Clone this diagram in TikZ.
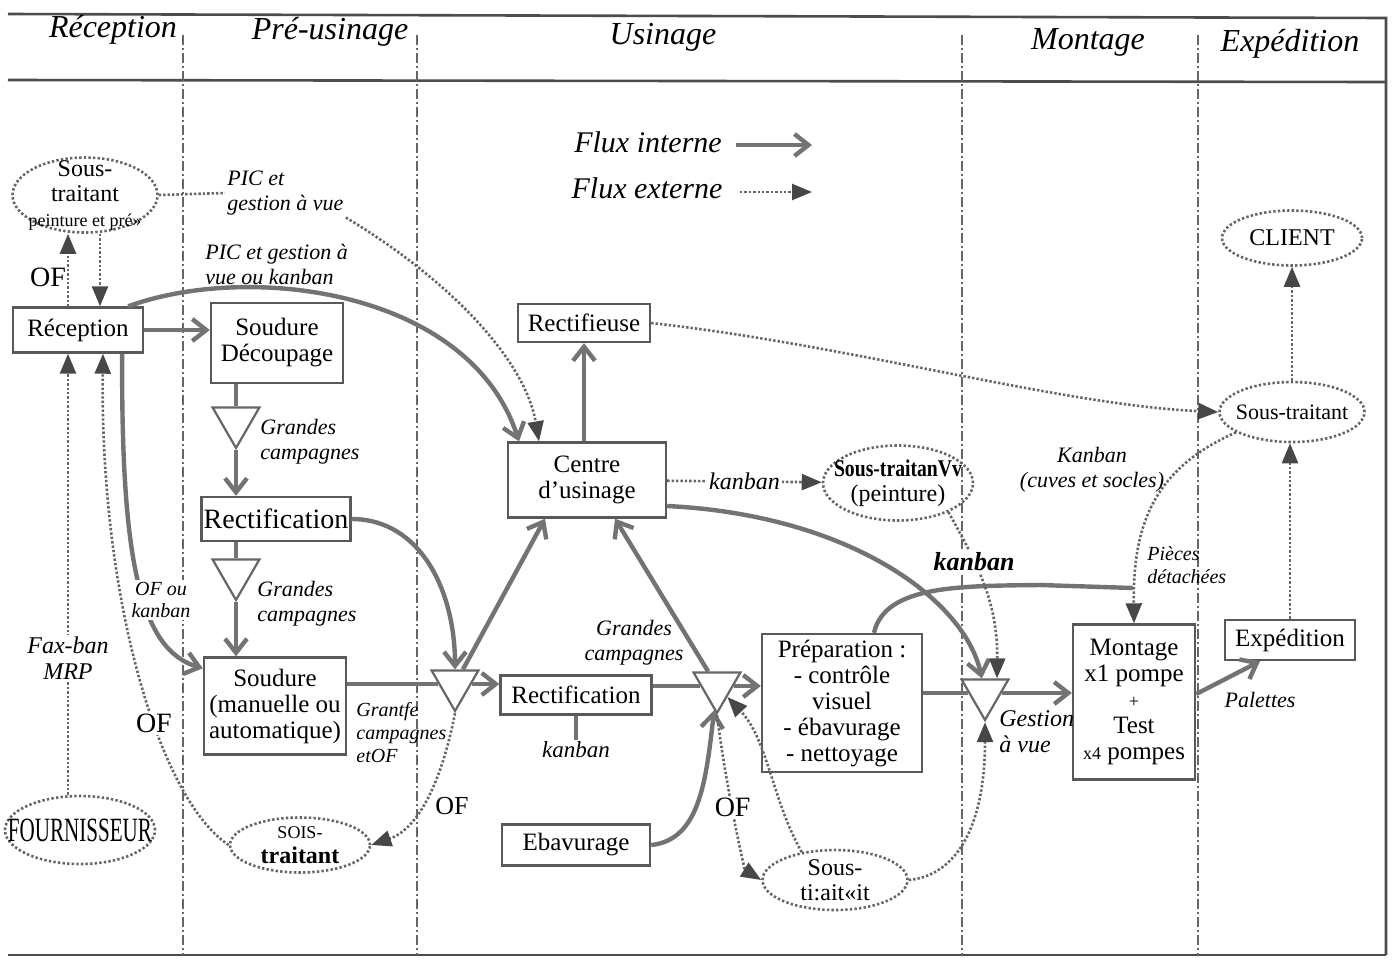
\documentclass[tikz,border=0pt]{standalone}
\usepackage{fontspec}
\setmainfont{Liberation Serif}
\usepackage{graphicx}
\usetikzlibrary{arrows.meta,shapes.geometric,calc}

\begin{document}
\begin{tikzpicture}[x=0.5pt, y=-0.5pt,
    box/.style={draw=black!65, line width=1.2pt, fill=white, align=center, inner sep=1pt,
        font=\fontsize{12.5}{13}\selectfont},
    ext/.style={ellipse, draw=black!60, line width=1.3pt, dash pattern=on 1.2pt off 1.1pt,
        inner xsep=-20pt, inner ysep=-14pt, align=center, font=\fontsize{12}{12.5}\selectfont},
    stock/.style={regular polygon, regular polygon sides=3, shape border rotate=180,
        draw=black!60, line width=1.1pt, fill=white, minimum size=27pt, inner sep=0pt},
    flux/.style={line width=2.2pt, black!55, -{Straight Barb[length=7pt,width=11pt]}},
    fluxline/.style={line width=2.2pt, black!55},
    extflow/.style={line width=1.3pt, black!60, dash pattern=on 1.2pt off 1pt,
        -{Triangle[length=10pt,width=8pt,color=black!72]}},
    extline/.style={line width=1.3pt, black!60, dash pattern=on 1.2pt off 1pt},
    sep/.style={line width=0.9pt, black!60, dash pattern=on 5pt off 1.5pt on 1pt off 1.5pt},
    lbl/.style={font=\fontsize{11}{12.5}\selectfont\itshape, align=center, inner sep=1pt, text=black},
    hdr/.style={font=\fontsize{16}{18}\selectfont\itshape}]
    \useasboundingbox (0,0) rectangle (1393,965);

    % 1. Frame and columns
    \draw[line width=1.3pt, black!70] (8,14) -- (1386,18) -- (1386,955);
    \draw[line width=1.3pt, black!70] (8,80) -- (1386,82);
    \draw[line width=1.3pt, black!70] (8,955) -- (1386,955);
    \foreach \x in {183,417,962,1198} {
        \draw[sep] (\x,35) -- (\x,955);
    }
    \node[hdr] (hrec) at (113,30) {Réception};
    \node[hdr] (hpre) at (330,32) {Pré-usinage};
    \node[hdr] (husi) at (663,37) {Usinage};
    \node[hdr] (hmon) at (1088,42) {Montage};
    \node[hdr] (hexp) at (1290,44) {Expédition};

    % 2. Legend
    \node[lbl, font=\fontsize{15}{16}\selectfont\itshape] (fi) at (648,142) {Flux interne};
    \node[lbl, font=\fontsize{15}{16}\selectfont\itshape] (fe) at (647,188) {Flux externe};
    \coordinate (fia) at (736,145);
    \coordinate (fib) at (812,145);
    \coordinate (fea) at (740,192);
    \coordinate (feb) at (812,192);
    \draw[flux] (fia) -- (fib);
    \draw[extflow] (fea) -- (feb);

    % 3. Workstations
    \node[box, minimum width=65pt, minimum height=22.5pt] (recep) at (78,330) {Réception};
    \node[box, minimum width=66pt, minimum height=40pt] (soudec) at (277,343) {Soudure\\Découpage};
    \node[box, minimum width=73pt, minimum height=22pt, font=\fontsize{14}{15}\selectfont] (rect1) at (276,519) {Rectification};
    \node[box, minimum width=71pt, minimum height=48.5pt] (soud) at (275,706) {Soudure\\(manuelle ou\\automatique)};
    \node[box, minimum width=66pt, minimum height=19pt] (rectif) at (584,323) {Rectifieuse};
    \node[box, minimum width=79pt, minimum height=37.5pt] (centre) at (587,480) {Centre\\d'usinage};
    \node[box, minimum width=75.5pt, minimum height=19.5pt] (rect2) at (576,695) {Rectification};
    \node[box, minimum width=74pt, minimum height=20.5pt] (ebav) at (576,845) {Ebavurage};
    \node[box, minimum width=80pt, minimum height=69pt] (prep) at (842,703) {Préparation :\\- contrôle\\visuel\\- ébavurage\\- nettoyage};
    \node[box, minimum width=61pt, minimum height=77.5pt] (mont) at (1134,702) {Montage\\x1 pompe\\{\small +}\\Test\\{\small x4} pompes};
    \node[box, minimum width=65pt, minimum height=20pt] (exped) at (1290,640) {Expédition};

    % 4. Outside partners
    \node[ext, minimum width=72.5pt, minimum height=37.5pt] (st1) at (85,195) {Sous-\\traitant\\{\fontsize{9}{10}\selectfont peinture et pré»}};
    \node[ext, minimum width=75pt, minimum height=34pt] (four) at (80,830) {\scalebox{0.62}[1]{\fontsize{17}{18}\selectfont FOURNISSEUR}};
    \node[ext, minimum width=70pt, minimum height=27.5pt] (st2) at (300,845) {{\small SOIS-}\\\textbf{traitant}};
    \node[ext, minimum width=75pt, minimum height=37.5pt] (stp) at (898,483) {\scalebox{0.82}[1]{\textbf{Sous-traitanVv}}\\(peinture)};
    \node[ext, minimum width=72.5pt, minimum height=30pt] (st3) at (835,880) {Sous-\\ti:ait«it};
    \node[ext, minimum width=70pt, minimum height=27.5pt] (client) at (1292,238) {CLIENT};
    \node[ext, minimum width=72.5pt, minimum height=30pt] (st4) at (1292,412) {{\fontsize{11}{12}\selectfont Sous-traitant}};

    % 5. Stocks
    \node[stock] (t1) at (236,421) {};
    \node[stock] (t2) at (236,573) {};
    \node[stock] (t3) at (455,684) {};
    \node[stock] (t4) at (717,686) {};
    \node[stock] (t5) at (985,693) {};

    % 6. Internal flows
    \draw[flux] (recep.east) -- (recep.east -| soudec.west);
    \draw[fluxline] (soudec.south -| t1) -- (t1);
    \draw[flux] (t1) -- (rect1.north -| t1);
    \draw[fluxline] (rect1.south -| t2) -- (t2);
    \draw[flux] (t2) -- (soud.north -| t2);
    \draw[flux] ([xshift=-11pt]recep.south east) .. controls (121,560) and (140,650) .. ([yshift=-6pt]soud.north west);
    \draw[fluxline] (soud.east |- t3) -- (t3);
    \draw[flux] (t3) -- (rect2.west |- t3);
    \draw[flux] (rect1.east) .. controls (420,519) and (455,590) .. (t3);
    \draw[flux] (t3) -- ([xshift=-21pt]centre.south);
    \draw[fluxline] (rect2.east |- t4) -- (t4);
    \draw[flux] (t4) -- (prep.west |- t4);
    \draw[flux] (t4) -- ([xshift=14pt]centre.south);
    \draw[flux] (ebav.east) .. controls (700,840) and (706,780) .. (t4);
    \draw[flux] (centre.north -| rectif) -- (rectif.south);
    \draw[flux] ([xshift=-8pt]recep.north east) .. controls (250,262) and (470,290) .. ([xshift=-34pt]centre.north);
    \draw[flux] ([yshift=-13pt]centre.east) .. controls (850,515) and (965,600) .. (t5);
    \coordinate (pdend) at (1133,588);
    \draw[fluxline] ([xshift=16pt]prep.north) .. controls (885,585) and (960,586) .. (1040,585) -- (pdend);
    \draw[fluxline] (prep.east |- t5) -- (t5);
    \draw[flux] (t5) -- (mont.west |- t5);
    \draw[flux] ([yshift=4pt]mont.east) -- ([xshift=-15pt]exped.south);
    \node[lbl, font=\fontsize{11.5}{12.5}\selectfont\itshape] (kb2) at (576,750) {kanban};
    \draw[fluxline, line width=1.6pt] (rect2.south) -- (kb2.north);

    % 7. External flows
    \draw[extflow] ([xshift=11pt]recep.north |- st1.south) -- ([xshift=11pt]recep.north);
    \draw[extflow] ([xshift=-5pt]recep.north) -- ([xshift=-5pt]recep.north |- st1.south);
    \node[font=\fontsize{14}{15}\selectfont] (of0) at (48,277) {OF};
    \node[lbl, anchor=west, align=left] (pic1) at (225,193) {PIC et\\gestion à vue};
    \draw[extline] (st1.east) -- (pic1.west);
    \draw[extflow] (pic1.south east) .. controls (450,280) and (525,360) .. ([xshift=-24pt]centre.north);
    \draw[extflow] ([xshift=-5pt]recep.south |- four.north) -- ([xshift=-5pt]recep.south)
        node[pos=0.31, lbl, fill=white, font=\fontsize{12}{13}\selectfont\itshape] (fax) {Fax-ban\\MRP};
    \draw[extflow] (st2.west) .. controls (160,800) and (100,600) .. ([xshift=12.5pt]recep.south)
        node[pos=0.4, fill=white, inner sep=1pt, text=black, font=\fontsize{14}{15}\selectfont] (of1) {OF};
    \draw[extflow] (t3.south) .. controls (440,790) and (415,830) .. (st2.east);
    \node[font=\fontsize{13}{14}\selectfont] (of2) at (452,806) {OF};
    \draw[extflow] (centre) -- (stp) node[midway, lbl, fill=white, font=\fontsize{12}{13}\selectfont\itshape] (kb1) {kanban};
    \draw[extflow] (stp.-30) .. controls (975,560) and (998,600) .. ([xshift=6pt]t5.north)
        node[pos=0.35, lbl, fill=white, font=\fontsize{13}{14}\selectfont\bfseries\itshape] (kb3) {kanban};
    \draw[extflow] (rectif.east) .. controls (850,345) and (1060,405) .. (st4.west);
    \draw[extflow] (st4.200) .. controls (1150,470) and (1133,530) .. (mont.north);
    \draw[extflow] (exped.north) -- (exped.north |- st4.south);
    \draw[extflow] (st4.north) -- (client.south);
    \draw[extflow] (t4.south) .. controls (728,800) and (745,870) .. (st3.west)
        node[pos=0.4, fill=white, inner sep=1pt, text=black, font=\fontsize{14}{15}\selectfont] (of3) {OF};
    \draw[extflow] (st3.140) .. controls (772,800) and (768,740) .. (t4);
    \draw[extflow] (st3.east) .. controls (960,875) and (985,820) .. (t5.south);

    % 8. Labels
    \node[lbl, anchor=west, align=left] (pic2) at (203,264) {PIC et gestion à\\vue ou kanban};
    \node[lbl, anchor=west, align=left] (gc1) at (258,442) {Grandes\\campagnes};
    \node[lbl, anchor=west, align=left] (gc2) at (255,604) {Grandes\\campagnes};
    \node[lbl, fill=white, font=\fontsize{10}{11}\selectfont\itshape] (ofk) at (161,600) {OF ou\\kanban};
    \node[lbl, anchor=west, align=left, font=\fontsize{10}{11.5}\selectfont\itshape] (gcof) at (354,733) {Grantfe\\campagnes\\etOF};
    \node[lbl] (gc3) at (634,643) {Grandes\\campagnes};
    \node[lbl] (kc) at (1092,470) {Kanban\\(cuves et socles)};
    \node[lbl, anchor=west, align=left, font=\fontsize{10}{11.5}\selectfont\itshape] (pd) at (1145,565) {Pièces\\détachées};
    \node[lbl, anchor=west, align=left, font=\fontsize{12}{13}\selectfont\itshape] (gv) at (997,732) {Gestion\\à vue};
    \node[lbl] (pal) at (1260,700) {Palettes};
\end{tikzpicture}
\end{document}
